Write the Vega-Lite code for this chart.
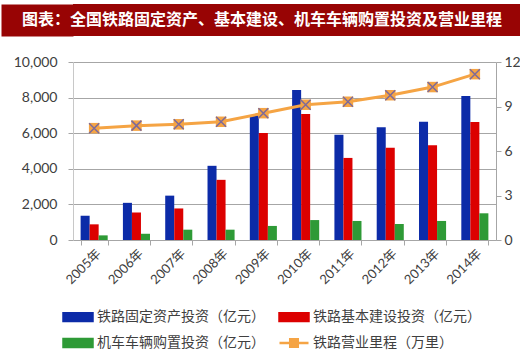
{
  "$schema": "https://vega.github.io/schema/vega-lite/v6.json",
  "padding": {"left": -15, "top": 4, "right": 0, "bottom": 0},
  "background": "white",
  "spacing": 19,
  "columns": 1,
  "config": {"view": {"stroke": null}, "font": "Lato, Noto Sans CJK SC"},
  "datasets": {
    "d": [
      {"year": "2005年", "series": "铁路固定资产投资（亿元）", "value": 1363},
      {"year": "2006年", "series": "铁路固定资产投资（亿元）", "value": 2088},
      {"year": "2007年", "series": "铁路固定资产投资（亿元）", "value": 2492},
      {"year": "2008年", "series": "铁路固定资产投资（亿元）", "value": 4168},
      {"year": "2009年", "series": "铁路固定资产投资（亿元）", "value": 7013},
      {"year": "2010年", "series": "铁路固定资产投资（亿元）", "value": 8427},
      {"year": "2011年", "series": "铁路固定资产投资（亿元）", "value": 5906},
      {"year": "2012年", "series": "铁路固定资产投资（亿元）", "value": 6340},
      {"year": "2013年", "series": "铁路固定资产投资（亿元）", "value": 6638},
      {"year": "2014年", "series": "铁路固定资产投资（亿元）", "value": 8088},
      {"year": "2005年", "series": "铁路基本建设投资（亿元）", "value": 880},
      {"year": "2006年", "series": "铁路基本建设投资（亿元）", "value": 1550},
      {"year": "2007年", "series": "铁路基本建设投资（亿元）", "value": 1772},
      {"year": "2008年", "series": "铁路基本建设投资（亿元）", "value": 3380},
      {"year": "2009年", "series": "铁路基本建设投资（亿元）", "value": 6006},
      {"year": "2010年", "series": "铁路基本建设投资（亿元）", "value": 7075},
      {"year": "2011年", "series": "铁路基本建设投资（亿元）", "value": 4611},
      {"year": "2012年", "series": "铁路基本建设投资（亿元）", "value": 5185},
      {"year": "2013年", "series": "铁路基本建设投资（亿元）", "value": 5328},
      {"year": "2014年", "series": "铁路基本建设投资（亿元）", "value": 6623},
      {"year": "2005年", "series": "机车车辆购置投资（亿元）", "value": 260},
      {"year": "2006年", "series": "机车车辆购置投资（亿元）", "value": 350},
      {"year": "2007年", "series": "机车车辆购置投资（亿元）", "value": 580},
      {"year": "2008年", "series": "机车车辆购置投资（亿元）", "value": 580},
      {"year": "2009年", "series": "机车车辆购置投资（亿元）", "value": 790},
      {"year": "2010年", "series": "机车车辆购置投资（亿元）", "value": 1120},
      {"year": "2011年", "series": "机车车辆购置投资（亿元）", "value": 1070},
      {"year": "2012年", "series": "机车车辆购置投资（亿元）", "value": 900},
      {"year": "2013年", "series": "机车车辆购置投资（亿元）", "value": 1070},
      {"year": "2014年", "series": "机车车辆购置投资（亿元）", "value": 1500},
      {"year": "2005年", "series": "铁路营业里程（万里）", "value": 7.54},
      {"year": "2006年", "series": "铁路营业里程（万里）", "value": 7.71},
      {"year": "2007年", "series": "铁路营业里程（万里）", "value": 7.8},
      {"year": "2008年", "series": "铁路营业里程（万里）", "value": 7.97},
      {"year": "2009年", "series": "铁路营业里程（万里）", "value": 8.55},
      {"year": "2010年", "series": "铁路营业里程（万里）", "value": 9.12},
      {"year": "2011年", "series": "铁路营业里程（万里）", "value": 9.32},
      {"year": "2012年", "series": "铁路营业里程（万里）", "value": 9.76},
      {"year": "2013年", "series": "铁路营业里程（万里）", "value": 10.31},
      {"year": "2014年", "series": "铁路营业里程（万里）", "value": 11.18}
    ]
  },
  "concat": [
    {
      "width": 470,
      "height": 32,
      "view": {"fill": "#980404", "stroke": null},
      "data": {"values": [{"t": "图表：全国铁路固定资产、基本建设、机车车辆购置投资及营业里程"}]},
      "mark": {"type": "text", "color": "white", "font": "Noto Sans CJK SC", "fontSize": 16, "fontWeight": "bold", "dx": -46},
      "encoding": {
        "text": {"field": "t"},
        "y": {"field": "t", "type": "nominal", "axis": {"title": null, "labels": false, "domain": false, "ticks": true, "tickSize": 72, "tickWidth": 32, "tickColor": "#980404", "minExtent": 66, "maxExtent": 66, "grid": false}}
      }
    },
    {
      "width": 423,
      "height": 178,
      "data": {"name": "d"},
      "resolve": {"scale": {"y": "independent"}},
      "layer": [
        {
          "transform": [{"filter": "datum.series !== '铁路营业里程（万里）'"}],
          "mark": {"type": "bar"},
          "encoding": {
            "x": {
              "field": "year", "type": "nominal", "sort": null,
              "scale": {"paddingInner": 0.36, "paddingOuter": 0.18},
              "axis": {"title": null, "labelAngle": -45, "tickBand": "extent", "domainColor": "#a6a6a6", "tickColor": "#a6a6a6", "tickSize": 5, "labelFontSize": 13, "labelColor": "#404040", "labelPadding": 2}
            },
            "xOffset": {"field": "series", "type": "nominal", "sort": ["铁路固定资产投资（亿元）", "铁路基本建设投资（亿元）", "机车车辆购置投资（亿元）"], "scale": {"paddingInner": 0, "paddingOuter": 0}},
            "y": {
              "field": "value", "type": "quantitative",
              "scale": {"domain": [0, 10000], "nice": false},
              "axis": {"title": null, "values": [0, 2000, 4000, 6000, 8000, 10000], "labelExpr": "format(datum.value, ',')", "grid": true, "gridColor": "#a6a6a6", "domainColor": "#c8c8c8", "tickColor": "#a6a6a6", "tickSize": 5, "labelPadding": 11, "labelFontSize": 14, "labelColor": "#404040", "minExtent": 61, "maxExtent": 61}
            },
            "color": {
              "field": "series", "type": "nominal",
              "scale": {
                "domain": ["铁路固定资产投资（亿元）", "铁路基本建设投资（亿元）", "机车车辆购置投资（亿元）", "铁路营业里程（万里）"],
                "range": ["#0c2ba8", "#dc0000", "#2e9a36", "#f5a444"]
              },
              "legend": {
                "orient": "none", "legendX": -11, "legendY": 297, "columns": 2, "direction": "horizontal", "title": null,
                "labelFontSize": 14, "labelFont": "Noto Sans CJK SC", "labelColor": "#404040", "labelLimit": 300,
                "symbolSize": 841, "symbolType": "M-1,-0.27H1V0.27H-1Z", "rowPadding": 1, "columnPadding": 9, "labelOffset": 3,
                "symbolOpacity": 1,
                "encode": {
                  "symbols": {
                    "update": {
                      "shape": [{"test": "datum.value === '铁路营业里程（万里）'", "value": "M-1,0H1M-0.26,-0.26H0.26V0.26H-0.26Z"}, {"value": "M-1,-0.27H1V0.27H-1Z"}],
                      "stroke": [{"test": "datum.value === '铁路营业里程（万里）'", "value": "#f5a444"}, {"value": "transparent"}],
                      "strokeWidth": {"value": 2.5},
                      "opacity": {"value": 1}
                    }
                  }
                }
              }
            }
          }
        },
        {
          "transform": [{"filter": "datum.series === '铁路营业里程（万里）'"}],
          "encoding": {
            "x": {"field": "year", "type": "nominal", "sort": null},
            "y": {
              "field": "value", "type": "quantitative",
              "scale": {"domain": [0, 12], "nice": false},
              "axis": {"orient": "right", "title": null, "values": [0, 3, 6, 9, 12], "grid": false, "domainColor": "#a6a6a6", "tickColor": "#a6a6a6", "tickSize": 5, "labelPadding": 3, "labelFontSize": 14, "labelColor": "#404040"}
            }
          },
          "layer": [
            {"mark": {"type": "line", "strokeWidth": 3}, "encoding": {"color": {"field": "series", "type": "nominal"}}},
            {"mark": {"type": "point", "shape": "square", "filled": true, "size": 110, "color": "#f5a444", "opacity": 1}},
            {"mark": {"type": "point", "shape": "M-1,-1L1,1M1,-1L-1,1", "filled": false, "size": 100, "color": "#7d6a9a", "strokeWidth": 1.5, "opacity": 1}}
          ]
        }
      ]
    }
  ]
}
